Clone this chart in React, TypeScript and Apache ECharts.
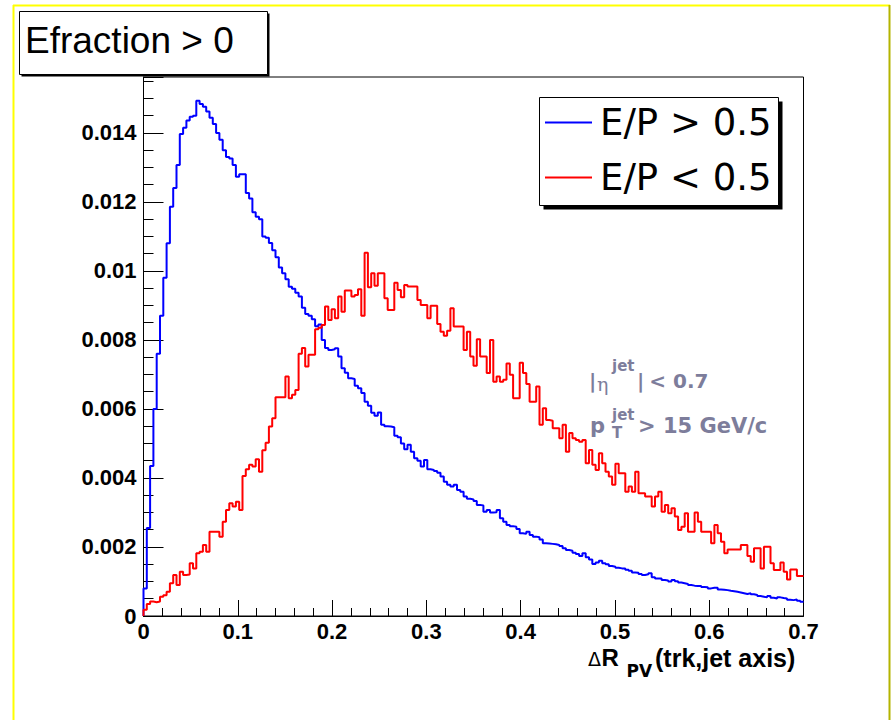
import React, { useEffect, useRef } from "react";
import * as echarts from "echarts";

// Histogram binning: 200 bins on [0, 0.7]
const binWidth = 0.0035;
const xMin = 0;
const xMax = 0.7;
const yMax = 0.01562;

const xTickValues = [0, 0.1, 0.2, 0.3, 0.4, 0.5, 0.6, 0.7];
const yTickValues = [0, 0.002, 0.004, 0.006, 0.008, 0.01, 0.012, 0.014];

const titleText = "Efraction > 0";
const legendLabels = ["E/P > 0.5", "E/P < 0.5"];
const seriesColors = ["#0000ff", "#ff0000"];

// E/P > 0.5 (blue)
const blueValues = [
  0.0008, 0.00255, 0.00435, 0.006, 0.0076, 0.0087, 0.0098, 0.0108, 0.01186, 0.0124,
  0.01307, 0.01397, 0.01415, 0.01436, 0.01447, 0.0145, 0.01493, 0.01484, 0.01476, 0.01462,
  0.01444, 0.01426, 0.014, 0.0138, 0.0135, 0.0133, 0.01326, 0.01307, 0.01273, 0.0128,
  0.0128, 0.01226, 0.0121, 0.0117, 0.01157, 0.0115, 0.011, 0.01096, 0.01081, 0.0106,
  0.0104, 0.0101, 0.00993, 0.00976, 0.00954, 0.00948, 0.00937, 0.00926, 0.00893, 0.00875,
  0.0087, 0.0086, 0.0084, 0.00845, 0.008, 0.00777, 0.00771, 0.00773, 0.00776, 0.00752,
  0.00718, 0.00705, 0.00689, 0.00687, 0.00667, 0.0066, 0.00646, 0.00621, 0.00609, 0.00589,
  0.0058, 0.0059, 0.00554, 0.0055, 0.00549, 0.00547, 0.00522, 0.00518, 0.005, 0.00483,
  0.00496, 0.00476, 0.00457, 0.0045, 0.00433, 0.00452, 0.00425, 0.00423, 0.0042, 0.00415,
  0.00404, 0.00389, 0.0038, 0.00375, 0.0038, 0.00365, 0.0036, 0.00346, 0.0034, 0.00338,
  0.00333, 0.00322, 0.0032, 0.00302, 0.00307, 0.003, 0.00301, 0.00307, 0.00283, 0.00273,
  0.00264, 0.0026, 0.00259, 0.00252, 0.0024, 0.00238, 0.00244, 0.00235, 0.0023, 0.00228,
  0.00222, 0.00211, 0.0021, 0.00209, 0.00208, 0.00206, 0.00203, 0.00196, 0.00191, 0.00189,
  0.00183, 0.0018, 0.00174, 0.00182, 0.0017, 0.00164, 0.00151, 0.00155, 0.0016, 0.00153,
  0.0015, 0.00145, 0.00143, 0.0014, 0.00138, 0.00138, 0.00134, 0.00131, 0.00126, 0.00125,
  0.00122, 0.00119, 0.00121, 0.00124, 0.00112, 0.00109, 0.00109, 0.00104, 0.00103, 0.001,
  0.00104, 0.00101, 0.00097, 0.00095, 0.00093, 0.0009, 0.00088, 0.00087, 0.00087, 0.00084,
  0.00083, 0.0008, 0.00082, 0.00082, 0.00077, 0.00076, 0.00075, 0.00073, 0.00072, 0.0007,
  0.00068, 0.00066, 0.00064, 0.00066, 0.00063, 0.00061, 0.00058, 0.00056, 0.00054, 0.00058,
  0.00053, 0.00051, 0.00054, 0.00052, 0.00051, 0.00047, 0.00046, 0.00048, 0.00044, 0.00041,
];

// E/P < 0.5 (red)
const redValues = [
  0.00018, 0.00035, 0.00042, 0.0004, 0.00042, 0.00056, 0.0006, 0.0007, 0.00095, 0.00119,
  0.0009, 0.00128, 0.00119, 0.0012, 0.00153, 0.00138, 0.00182, 0.00186, 0.00206, 0.00186,
  0.00244, 0.00244, 0.00244, 0.0023, 0.00273, 0.00307, 0.00327, 0.00317, 0.00331, 0.00307,
  0.00406, 0.00425, 0.00438, 0.00433, 0.00454, 0.00418, 0.0048, 0.00502, 0.00549, 0.00573,
  0.00634, 0.00634, 0.00634, 0.00694, 0.00631, 0.00641, 0.00655, 0.0076, 0.00777, 0.00723,
  0.00757, 0.00757, 0.00831, 0.00835, 0.00843, 0.00897, 0.00858, 0.00889, 0.00863, 0.00926,
  0.00882, 0.00943, 0.00943, 0.00926, 0.0093, 0.00947, 0.0087, 0.01053, 0.00953, 0.00993,
  0.00957, 0.00993, 0.00993, 0.00921, 0.00887, 0.00887, 0.00966, 0.00945, 0.00924, 0.00959,
  0.00955, 0.00955, 0.00955, 0.00916, 0.00901, 0.00901, 0.00863, 0.00899, 0.00899, 0.00846,
  0.00824, 0.00812, 0.00827, 0.00892, 0.00839, 0.00839, 0.00839, 0.00771, 0.00824, 0.00752,
  0.00725, 0.00802, 0.00752, 0.00752, 0.00704, 0.008, 0.00679, 0.00694, 0.00679, 0.00685,
  0.00732, 0.00699, 0.00631, 0.00631, 0.00734, 0.00704, 0.00672, 0.00621, 0.00621, 0.00665,
  0.00554, 0.00602, 0.00568, 0.00566, 0.00544, 0.00544, 0.00515, 0.00554, 0.00476, 0.0053,
  0.00515, 0.0051, 0.00505, 0.0051, 0.00443, 0.00481, 0.00438, 0.00423, 0.00472, 0.00443,
  0.00418, 0.00404, 0.0038, 0.00441, 0.00414, 0.00414, 0.0036, 0.00375, 0.0036, 0.00418,
  0.00356, 0.00356, 0.00346, 0.00346, 0.00317, 0.00346, 0.0036, 0.00302, 0.00322, 0.00298,
  0.00312, 0.00288, 0.00249, 0.00259, 0.00298, 0.00244, 0.00244, 0.003, 0.00273, 0.00244,
  0.00244, 0.00244, 0.00211, 0.00264, 0.0024, 0.00215, 0.00182, 0.00193, 0.00193, 0.00193,
  0.00193, 0.00206, 0.00206, 0.00174, 0.00157, 0.00196, 0.00196, 0.00138, 0.00201, 0.00201,
  0.00153, 0.00133, 0.00133, 0.00155, 0.00128, 0.00106, 0.00135, 0.00135, 0.00116, 0.00116,
];

function toSteps(values: number[]): number[][] {
  const pts: number[][] = [[xMin, 0]];
  values.forEach((v, i) => pts.push([+(i * binWidth).toFixed(5), v]));
  pts.push([xMax, values[values.length - 1]]);
  return pts;
}

function fmt(v: number): string {
  return parseFloat(v.toFixed(4)).toString();
}

const LIB = "Liberation Sans";
const DJV = "DejaVu Sans";
const ANNOT = "#7d7d9b";

function txt(text: string, x: number, y: number, size: number, family: string, weight: string, fill = "#000", align = "left") {
  return {
    type: "text",
    x,
    y,
    z: 100,
    style: {
      text,
      fontSize: size,
      fontFamily: family,
      fontWeight: weight,
      fill,
      textAlign: align,
      textVerticalAlign: "middle",
      align,
      verticalAlign: "middle",
    },
  };
}

export default function App() {
  const ref = useRef<HTMLDivElement>(null);
  useEffect(() => {
    if (!ref.current) return;
    const chart = echarts.init(ref.current, null, { renderer: "svg" });
    const option: any = {
      animation: false,
      backgroundColor: "#ffffff",
      grid: {
        left: 143.5,
        right: 88.5,
        top: 77,
        bottom: 104,
        show: true,
        borderColor: "#000",
        borderWidth: 1,
        backgroundColor: "transparent",
      },
      xAxis: {
        type: "value",
        min: xMin,
        max: xMax,
        interval: 0.1,
        axisLine: { show: true, onZero: false, lineStyle: { color: "#000", width: 1 } },
        axisTick: { show: true, inside: true, length: 16, lineStyle: { color: "#000" } },
        minorTick: { show: true, splitNumber: 5, length: 8, lineStyle: { color: "#000" } },
        splitLine: { show: false },
        axisLabel: {
          margin: 7,
          fontSize: 22,
          lineHeight: 17,
          fontWeight: "bold",
          fontFamily: LIB,
          color: "#000",
          formatter: (v: number) => {
            const hit = xTickValues.find((t) => Math.abs(t - v) < 1e-6);
            return hit === undefined ? "" : fmt(hit);
          },
        },
      },
      yAxis: {
        type: "value",
        min: 0,
        max: yMax,
        interval: 0.002,
        axisLine: { show: true, onZero: false, lineStyle: { color: "#000", width: 1 } },
        axisTick: { show: true, inside: true, length: 20, lineStyle: { color: "#000" } },
        minorTick: { show: true, splitNumber: 4, length: 10, lineStyle: { color: "#000" } },
        splitLine: { show: false },
        axisLabel: {
          margin: 7,
          fontSize: 22,
          fontWeight: "bold",
          fontFamily: LIB,
          color: "#000",
          showMaxLabel: false,
          formatter: (v: number) => {
            const hit = yTickValues.find((t) => Math.abs(t - v) < 1e-7);
            return hit === undefined ? "" : fmt(hit);
          },
        },
      },
      series: [
        {
          name: legendLabels[0],
          type: "line",
          step: "end",
          showSymbol: false,
          symbol: "none",
          data: toSteps(blueValues),
          lineStyle: { color: seriesColors[0], width: 2 },
          z: 3,
        },
        {
          name: legendLabels[1],
          type: "line",
          step: "end",
          showSymbol: false,
          symbol: "none",
          data: toSteps(redValues),
          lineStyle: { color: seriesColors[1], width: 2 },
          z: 4,
        },
      ],
      graphic: [
        // canvas border
        { type: "line", z: 50, shape: { x1: 13.5, y1: 5, x2: 13.5, y2: 720 }, style: { stroke: "#ffff00", lineWidth: 2 } },
        { type: "line", z: 50, shape: { x1: 13, y1: 5.5, x2: 890, y2: 5.5 }, style: { stroke: "#ffff00", lineWidth: 2 } },
        { type: "line", z: 50, shape: { x1: 889.5, y1: 5, x2: 889.5, y2: 720 }, style: { stroke: "#b4b400", lineWidth: 2 } },
        // title box
        { type: "rect", z: 60, shape: { x: 21.5, y: 13.5, width: 248, height: 63 }, style: { fill: "#000" } },
        { type: "rect", z: 61, shape: { x: 19.5, y: 11.5, width: 248, height: 63 }, style: { fill: "#fff", stroke: "#000", lineWidth: 1 } },
        txt(titleText, 25, 40.5, 37, LIB, "normal"),
        // legend box
        { type: "rect", z: 60, shape: { x: 543.5, y: 101.5, width: 239, height: 108 }, style: { fill: "#000" } },
        { type: "rect", z: 61, shape: { x: 539.5, y: 97.5, width: 239, height: 108 }, style: { fill: "#fff", stroke: "#000", lineWidth: 1 } },
        { type: "line", z: 62, shape: { x1: 545, y1: 122.5, x2: 592, y2: 122.5 }, style: { stroke: seriesColors[0], lineWidth: 2 } },
        { type: "line", z: 62, shape: { x1: 545, y1: 177.5, x2: 592, y2: 177.5 }, style: { stroke: seriesColors[1], lineWidth: 2 } },
        txt(legendLabels[0], 600, 122.2, 37, DJV, "normal"),
        txt(legendLabels[1], 600, 177.2, 37, DJV, "normal"),
        // annotation line 1: |eta^jet| < 0.7
        txt("|", 589, 381, 20, DJV, "bold", ANNOT),
        txt("η", 597, 384, 19, "DejaVu Serif", "normal", ANNOT),
        txt("jet", 612, 366, 15, DJV, "bold", ANNOT),
        txt("|", 637, 381, 20, DJV, "bold", ANNOT),
        txt("< 0.7", 708.5, 381, 20, DJV, "bold", ANNOT, "right"),
        // annotation line 2: p_T^jet > 15 GeV/c
        txt("p", 590, 425.5, 21, DJV, "bold", ANNOT),
        txt("jet", 612, 415, 15, DJV, "bold", ANNOT),
        txt("T", 612, 433, 15, DJV, "bold", ANNOT),
        txt("> 15 GeV/c", 638, 425.5, 21, DJV, "bold", ANNOT),
        // x-axis title: ΔR_PV(trk,jet axis)
        txt("Δ", 588, 658.5, 19, DJV, "normal"),
        txt("R", 601.5, 657.5, 24, LIB, "bold"),
        txt("PV", 626.5, 671, 17, DJV, "bold"),
        txt("(trk,jet axis)", 655, 658, 25, LIB, "bold"),
      ],
    };
    chart.setOption(option);
    return () => chart.dispose();
  }, []);
  return (
    <div
      ref={ref}
      style={{ position: "fixed", left: 0, top: 0, width: 892, height: 720, background: "#fff" }}
    />
  );
}
